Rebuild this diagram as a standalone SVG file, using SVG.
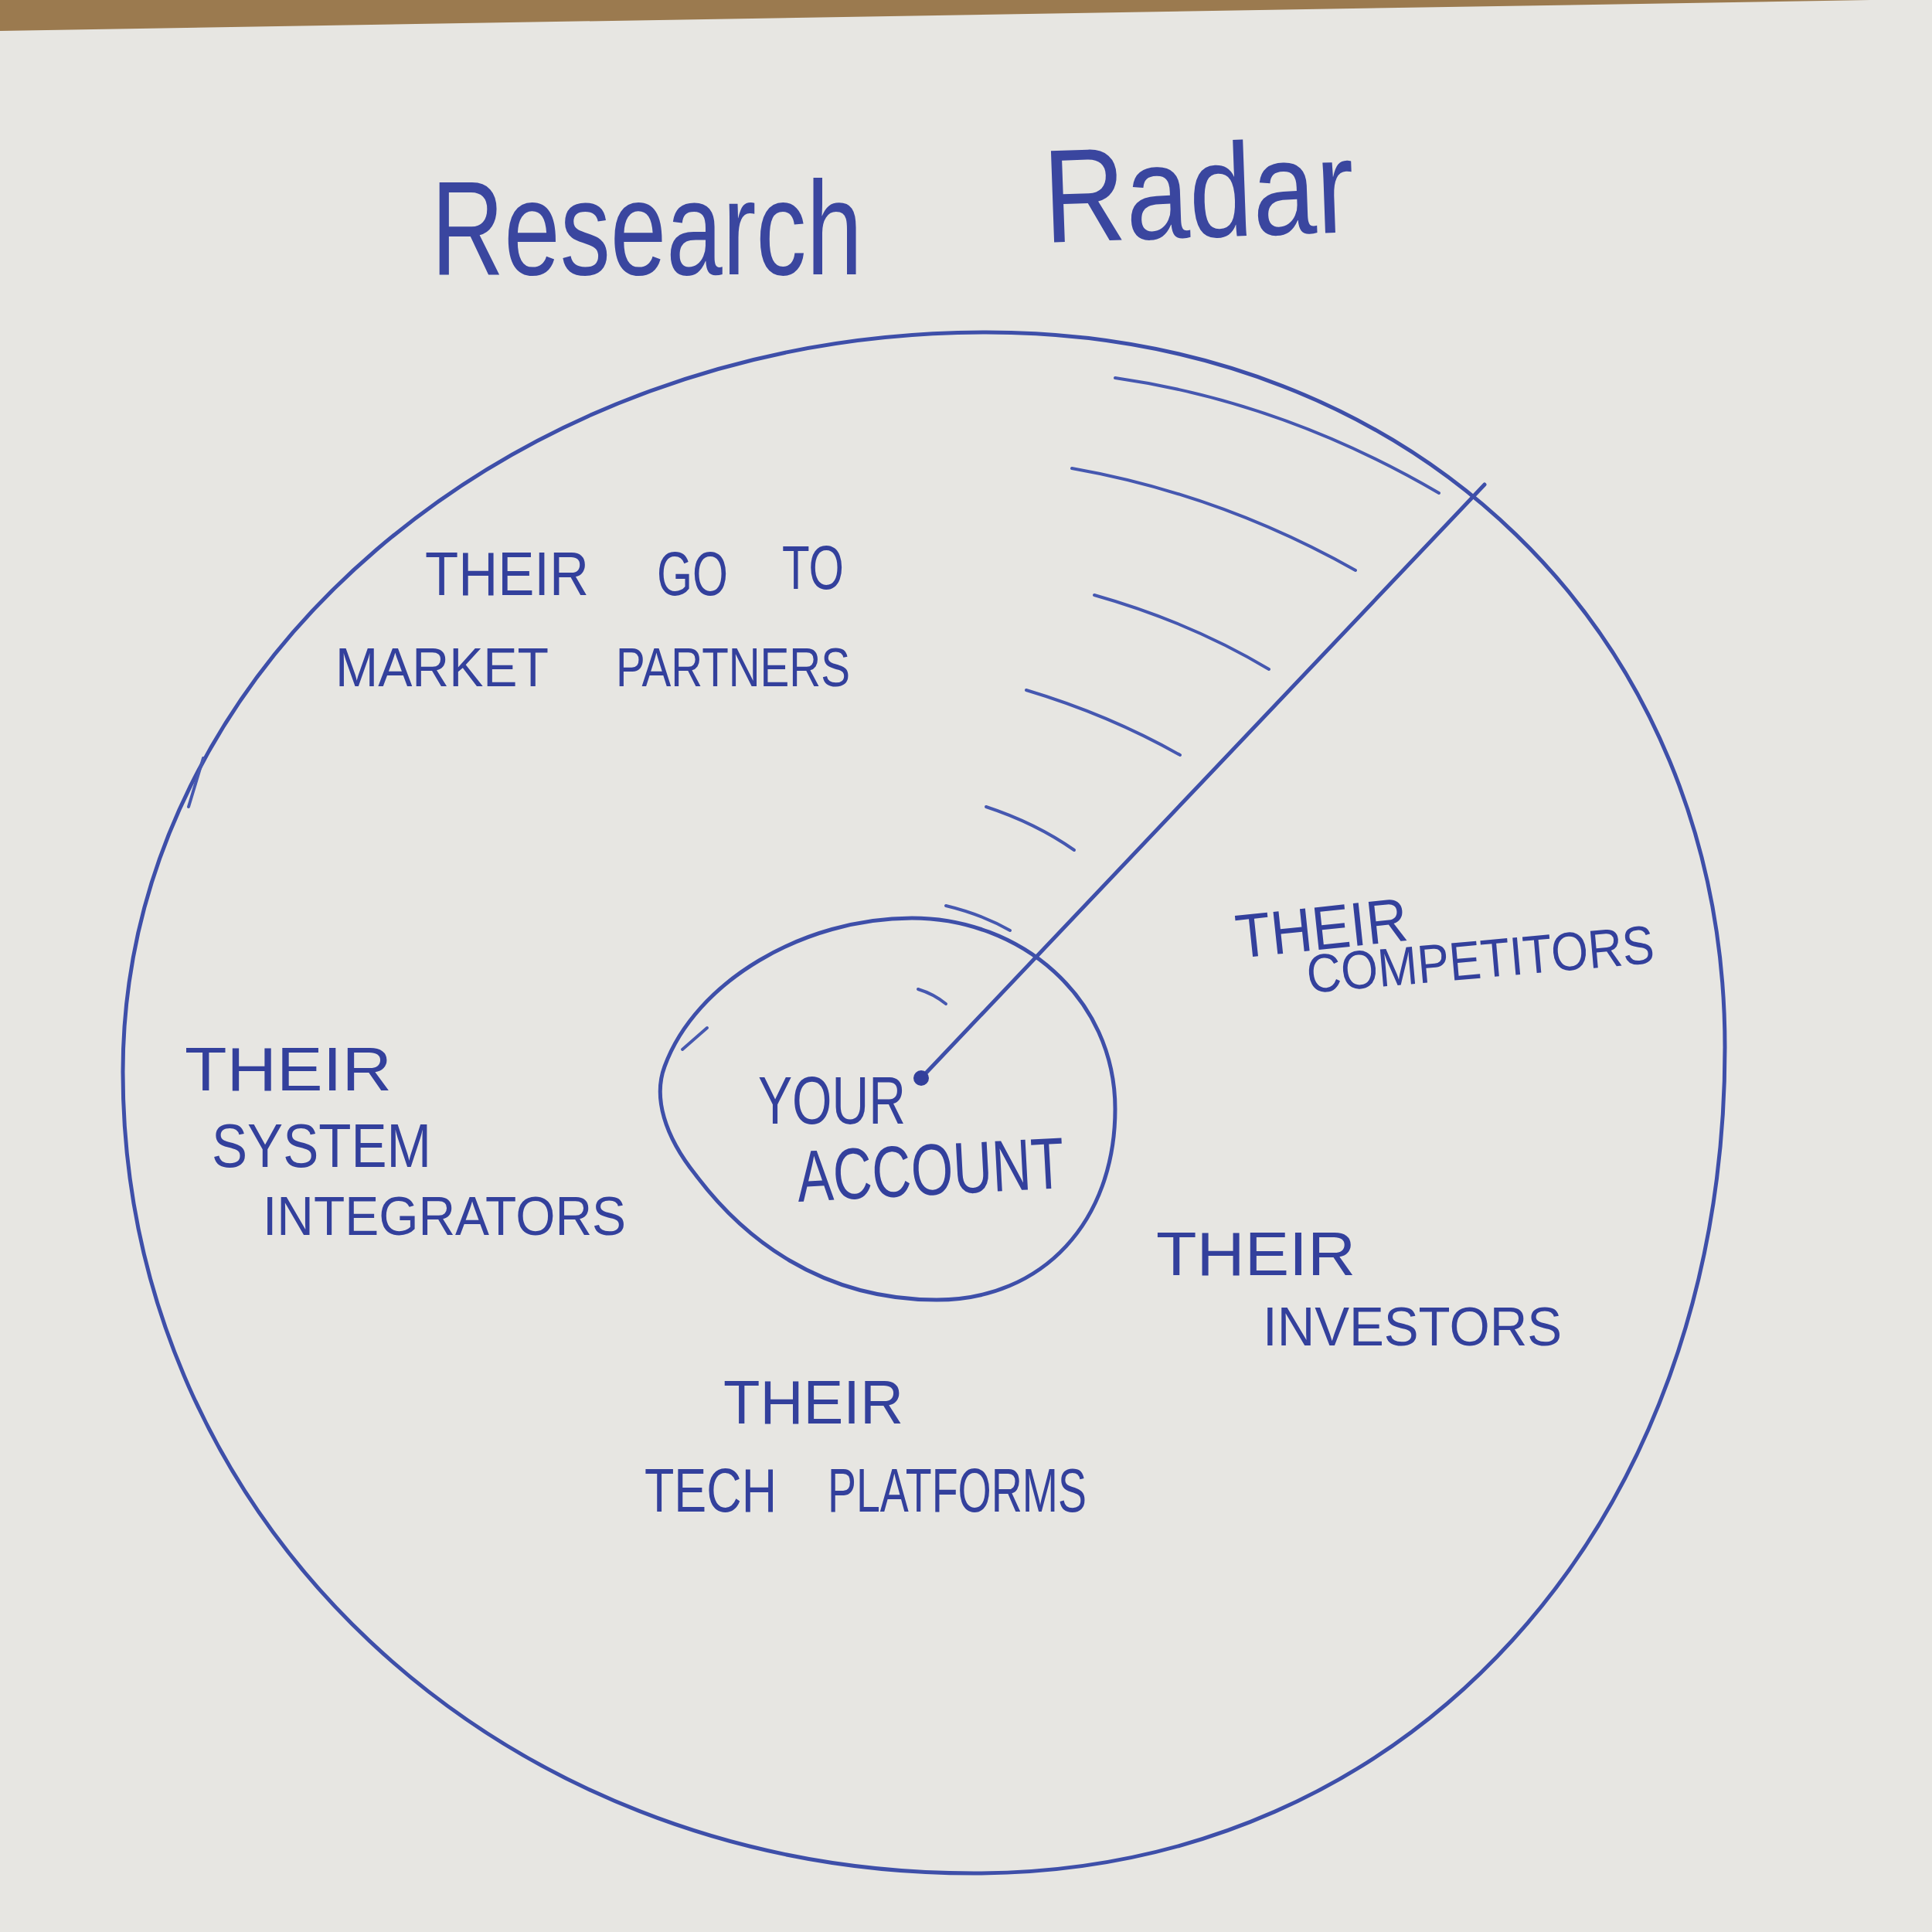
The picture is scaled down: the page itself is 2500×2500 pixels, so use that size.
<svg xmlns="http://www.w3.org/2000/svg" width="2500" height="2500" viewBox="0 0 2500 2500">
<style>
.ink{fill:none;stroke:#3e4fa9;stroke-width:5;stroke-linecap:round;stroke-linejoin:round}
.thin{fill:none;stroke:#4658b0;stroke-width:4;stroke-linecap:round}
.lbl{font-family:"Liberation Sans",Arial,sans-serif;font-size:80px;fill:#33409c}
.sm{font-size:70px}
.title{font-family:"Liberation Sans",Arial,sans-serif;font-size:172px;fill:#3a469f}
</style>
<rect x="0" y="0" width="2500" height="2500" fill="#e7e6e2"/>
<polygon points="0,0 2420,0 0,40" fill="#9b7a4f"/>
<g id="title">
<text class="title" x="558" y="355" textLength="558" lengthAdjust="spacingAndGlyphs">Research</text>
<text class="title" x="1352" y="314" textLength="402" lengthAdjust="spacingAndGlyphs" transform="rotate(-2 1352 314)">Radar</text>
</g>
<g id="outer-circle">
<path class="ink" d="M 1276 430 C 1830 430, 2232 820, 2232 1355 C 2232 1975, 1824 2424, 1260 2424 C 643 2424, 159 1968, 159 1387 C 159 861, 662 430, 1276 430 Z"/>
<path class="thin" d="M 244 1044 L 263 981"/>
</g>
<g id="your-account">
<path class="ink" d="M 1180 1188 C 1320 1188, 1443 1290, 1443 1435 C 1443 1580, 1350 1682, 1212 1682 C 1060 1682, 960 1600, 900 1520 C 860 1470, 845 1420, 860 1380 C 900 1270, 1040 1188, 1180 1188 Z"/>
<path class="thin" d="M 883 1358 L 915 1330"/>
<text class="lbl" x="981" y="1454" textLength="191" lengthAdjust="spacingAndGlyphs" style="font-size:88px">YOUR</text>
<text class="lbl" x="1033" y="1555" textLength="346" lengthAdjust="spacingAndGlyphs" style="font-size:94px" transform="rotate(-3 1033 1555)">ACCOUNT</text>
</g>
<g id="connectors">
<line class="ink" x1="1192" y1="1395" x2="1921" y2="627"/>
<circle cx="1192" cy="1395" r="10" fill="#33409c"/>
<path class="thin" d="M 1443 489 Q 1660 520, 1862 638"/>
<path class="thin" d="M 1387 606 Q 1580 640, 1754 738"/>
<path class="thin" d="M 1416 770 Q 1540 805, 1642 866"/>
<path class="thin" d="M 1328 893 Q 1435 925, 1527 977"/>
<path class="thin" d="M 1276 1044 Q 1340 1065, 1390 1100"/>
<path class="thin" d="M 1224 1172 Q 1270 1183, 1307 1204"/>
<path class="thin" d="M 1188 1280 Q 1208 1286, 1224 1299"/>
</g>
<g id="go-to-market-partners">
<text class="lbl" x="550" y="770" textLength="212" lengthAdjust="spacingAndGlyphs">THEIR</text>
<text class="lbl" x="850" y="770" textLength="92" lengthAdjust="spacingAndGlyphs">GO</text>
<text class="lbl" x="1012" y="762" textLength="80" lengthAdjust="spacingAndGlyphs">TO</text>
<text class="lbl sm" x="434" y="888" textLength="276" lengthAdjust="spacingAndGlyphs">MARKET</text>
<text class="lbl sm" x="797" y="888" textLength="303" lengthAdjust="spacingAndGlyphs">PARTNERS</text>
</g>
<g id="competitors">
<text class="lbl" x="1602" y="1240" textLength="223" lengthAdjust="spacingAndGlyphs" transform="rotate(-6 1602 1240)">THEIR</text>
<text class="lbl sm" x="1693" y="1285" textLength="451" lengthAdjust="spacingAndGlyphs" transform="rotate(-5 1693 1285)">COMPETITORS</text>
</g>
<g id="system-integrators">
<text class="lbl" x="239" y="1411" textLength="268" lengthAdjust="spacingAndGlyphs">THEIR</text>
<text class="lbl" x="274" y="1510" textLength="284" lengthAdjust="spacingAndGlyphs">SYSTEM</text>
<text class="lbl sm" x="340" y="1598" textLength="470" lengthAdjust="spacingAndGlyphs">INTEGRATORS</text>
</g>
<g id="investors">
<text class="lbl" x="1496" y="1650" textLength="258" lengthAdjust="spacingAndGlyphs">THEIR</text>
<text class="lbl sm" x="1634" y="1741" textLength="387" lengthAdjust="spacingAndGlyphs">INVESTORS</text>
</g>
<g id="tech-platforms">
<text class="lbl" x="936" y="1842" textLength="233" lengthAdjust="spacingAndGlyphs">THEIR</text>
<text class="lbl" x="834" y="1956" textLength="171" lengthAdjust="spacingAndGlyphs">TECH</text>
<text class="lbl" x="1071" y="1956" textLength="335" lengthAdjust="spacingAndGlyphs">PLATFORMS</text>
</g>
</svg>
